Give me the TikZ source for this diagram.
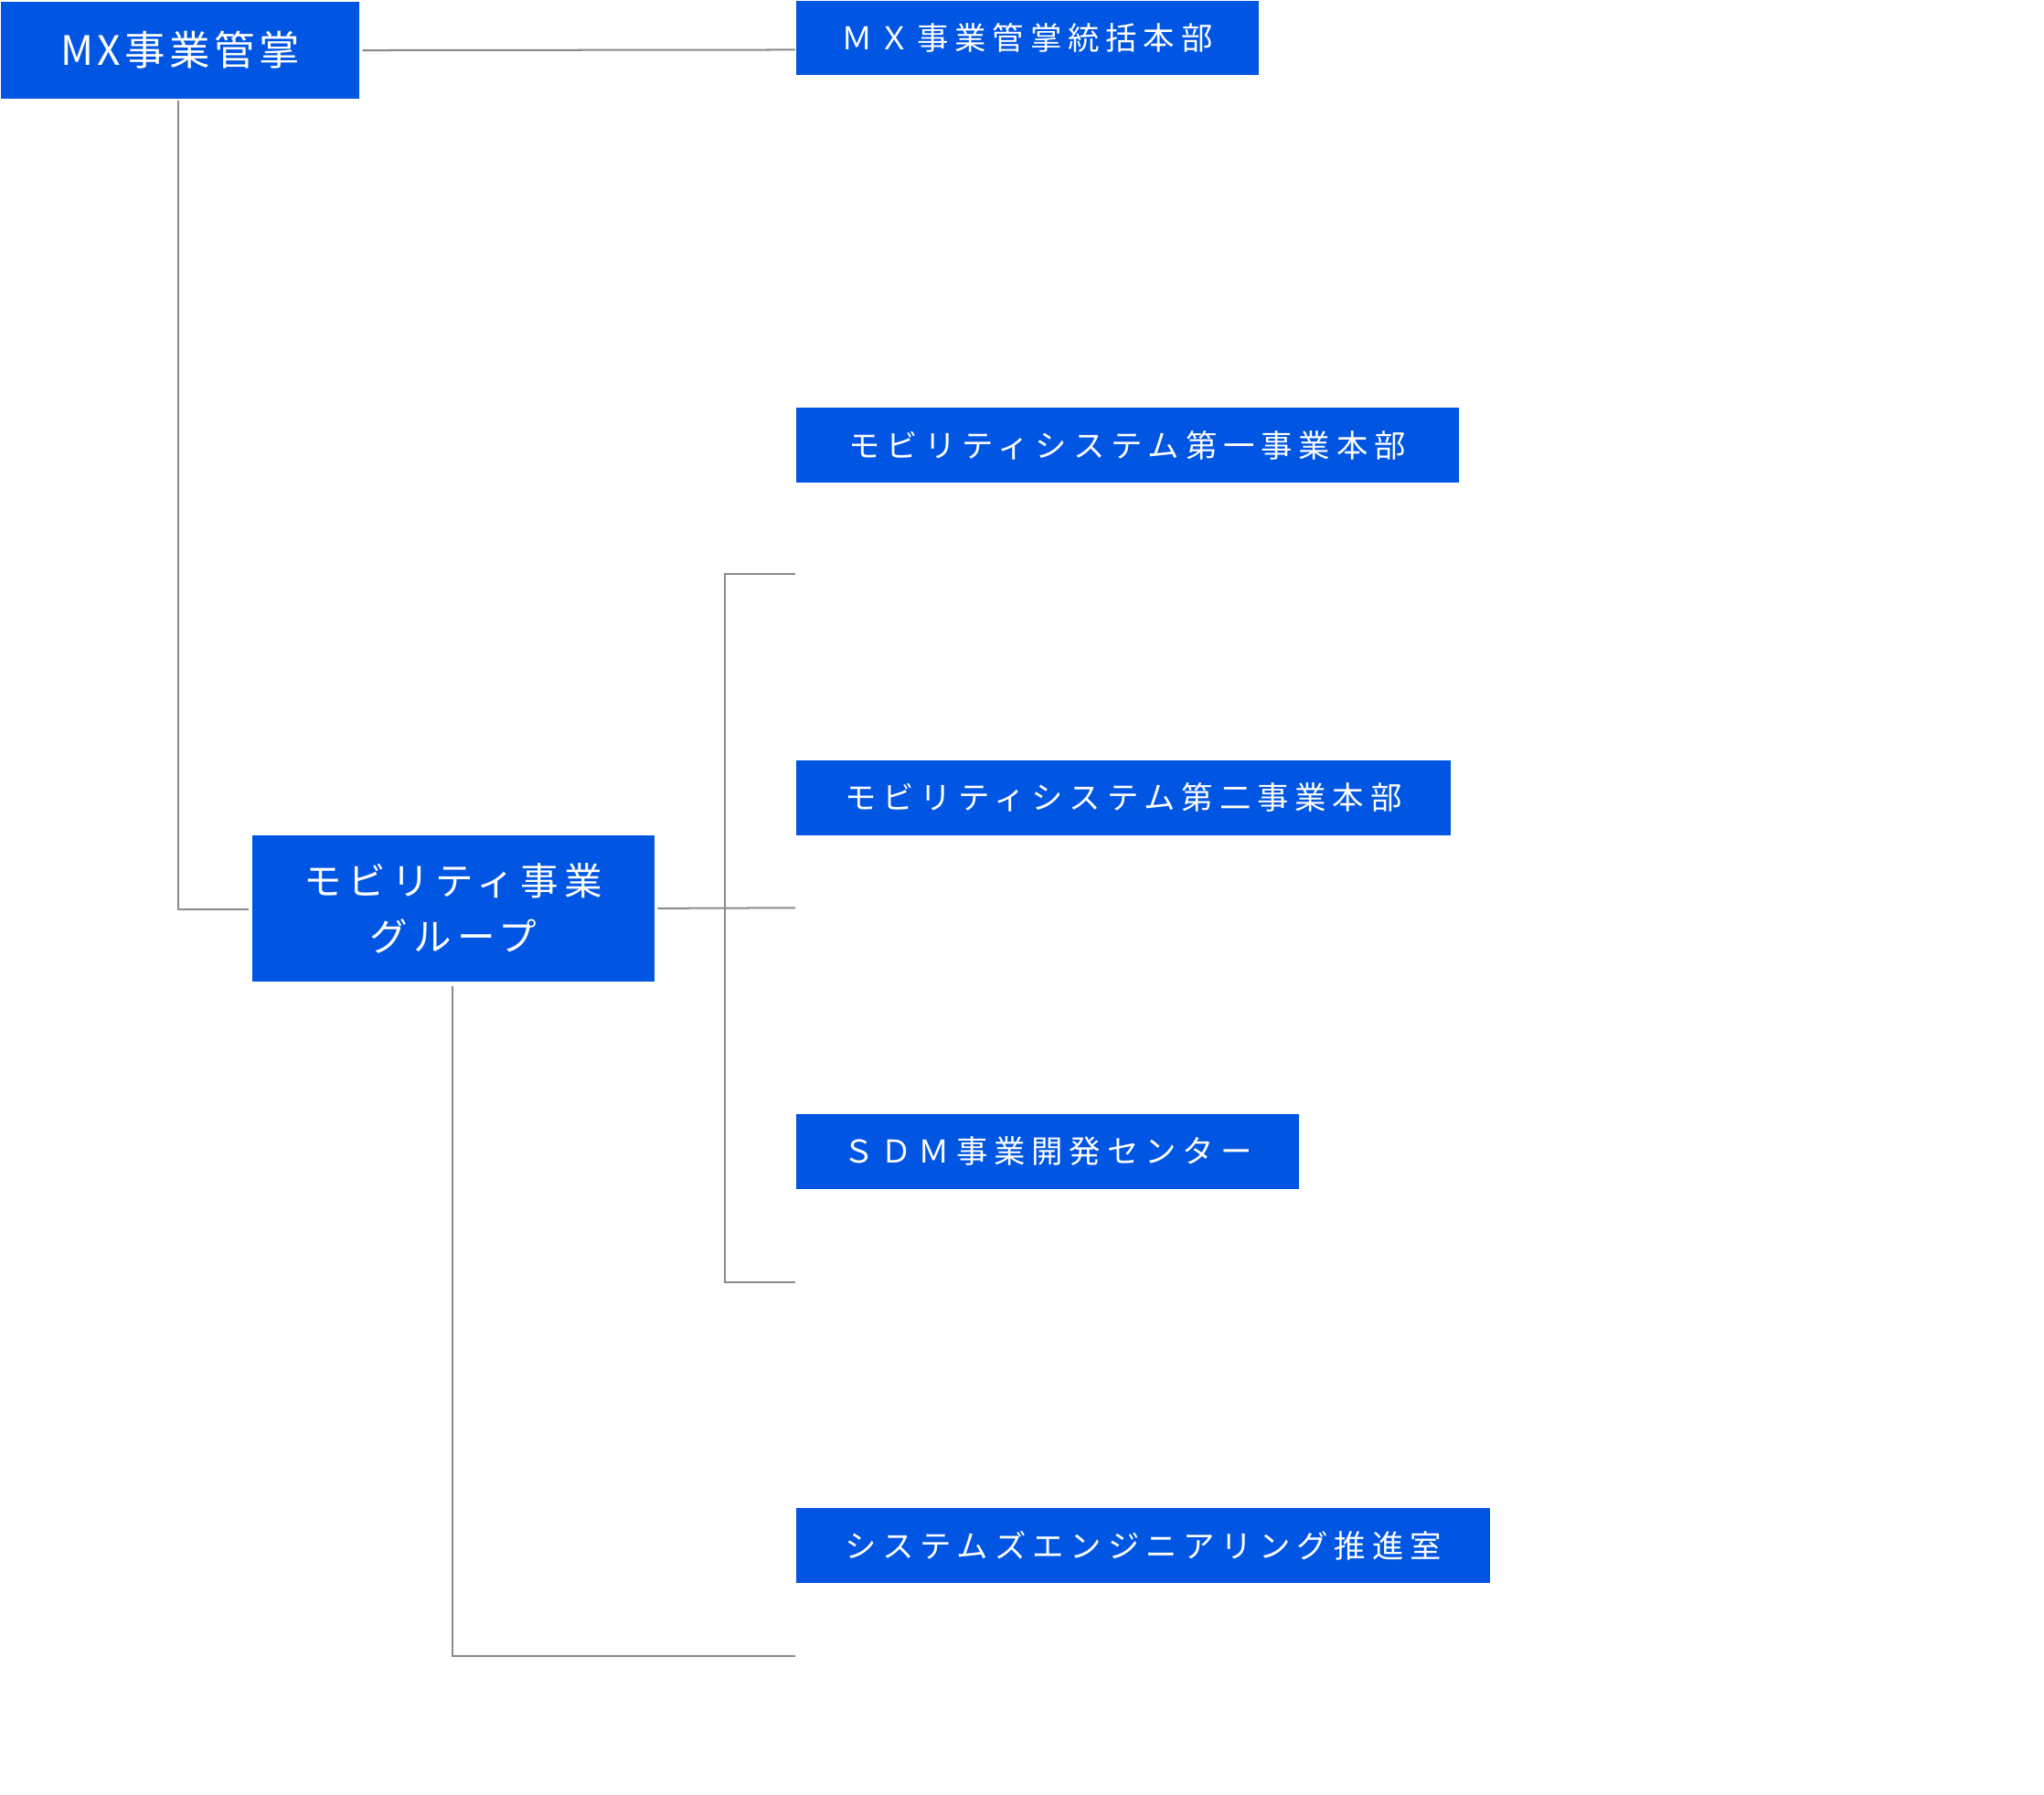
\documentclass[tikz,border=0pt]{standalone}
\usepackage{fontspec}
\setmainfont{Noto Sans CJK JP}
\definecolor{boxblue}{HTML}{0055E2}
\definecolor{lin}{HTML}{8A8A8A}
\begin{document}
\begin{tikzpicture}[x=0.5pt,y=-0.5pt,
  box/.style={fill=boxblue,text=white,inner sep=0pt,anchor=north west,align=center},
  sub/.style={box,minimum height=28.5pt,font=\fontsize{12}{14}\selectfont\addfontfeature{LetterSpace=20}},
  conn/.style={draw=lin,line width=0.7pt}]
\useasboundingbox (0,0) rectangle (1560,1370);
\node[box,minimum width=137pt,minimum height=37pt,font=\fontsize{15.5}{18}\selectfont\addfontfeature{LetterSpace=10}] (A) at (0,1) {MX事業管掌};
\node[sub,minimum width=176.5pt] (B) at (607,0) {ＭＸ事業管掌統括本部};
\node[sub,minimum width=253pt] (C) at (607,311) {モビリティシステム第一事業本部};
\node[sub,minimum width=250pt] (D) at (607,580) {モビリティシステム第二事業本部};
\node[sub,minimum width=192pt] (E) at (607,850) {ＳＤＭ事業開発センター};
\node[sub,minimum width=265pt] (F) at (607,1151) {システムズエンジニアリング推進室};
\node[box,minimum width=153.5pt,minimum height=56pt,font=\fontsize{14.5}{21}\selectfont\addfontfeature{LetterSpace=15}] (G) at (192,637) {モビリティ事業\\グループ};
\coordinate (p1) at (607,38);
\coordinate (p2) at (190,694);
\coordinate (p3) at (607,693);
\coordinate (b1) at (607,438);
\coordinate (b2) at (607,979);
\coordinate (p4) at (607,1264);
\draw[conn] (A.east)++(2,0) -- (p1);
\draw[conn] (136,77) |- (p2);
\draw[conn] (G.east)++(2,0) -- (p3);
\draw[conn] (b1) -| (553,979) -- (b2);
\draw[conn] (345,753) |- (p4);
\end{tikzpicture}
\end{document}
